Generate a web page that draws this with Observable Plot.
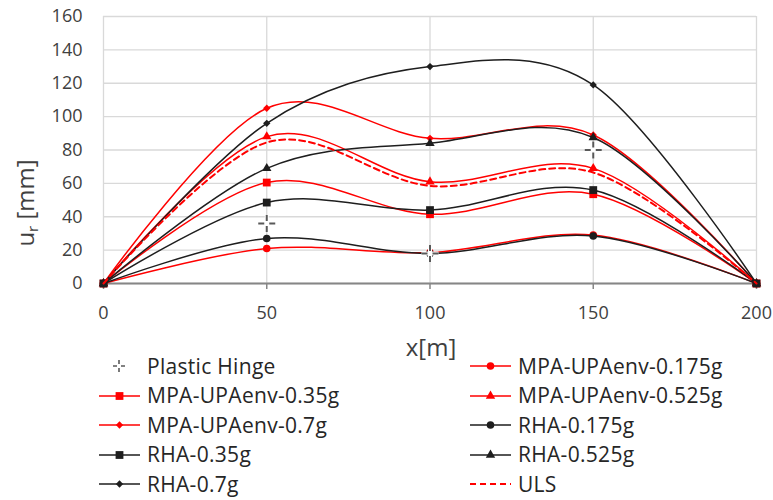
<!DOCTYPE html>
<html>
<head>
<meta charset="utf-8">
<script src="https://cdn.jsdelivr.net/npm/d3@7"></script>
<script src="https://cdn.jsdelivr.net/npm/@observablehq/plot@0.6"></script>
<style>
  body { margin: 0; background: #fff; font-family: "Open Sans", sans-serif; }
  #wrap { position: relative; width: 773px; height: 500px; overflow: hidden; }
  .lbl { position: absolute; color: #404040; font-size: 24px; white-space: nowrap; transform: translate(-50%, -50%); line-height: 1; }
  .lbl sub { font-size: 15px; vertical-align: -4px; }
  .leg { position: absolute; display: flex; align-items: center; color: #262626; font-size: 21px; letter-spacing: 0.3px; white-space: nowrap; line-height: 1; }
  .leg svg { display: block; margin-right: 6px; }
</style>
</head>
<body>
<div id="wrap"></div>
<script>
// ---------- data ----------
const xs = [0, 50, 100, 150, 200];
const mpa0175 = [0, 21, 18.5, 29, 0];
const mpa035  = [0, 60.5, 41.5, 53.5, 0];
const mpa0525 = [0, 88, 61, 69, 0];
const mpa07   = [0, 105, 87, 89, 0];
const rha0175 = [0, 27, 18, 28.5, 0];
const rha035  = [0, 48.5, 44, 56, 0];
const rha0525 = [0, 69, 84, 87.5, 0];
const rha07   = [0, 96, 130, 119, 0];
const uls     = [0, 84.5, 58.5, 66.5, 0];
const hingeX  = [50, 100, 150];
const hingeY  = [36, 18, 80];
const xTicks = [0, 50, 100, 150, 200];
const yTicks = [0, 20, 40, 60, 80, 100, 120, 140, 160];

const RED = "#ff0000", BLK = "#1e1e1e";
const series = [
  {name: "MPA-UPAenv-0.175g", v: mpa0175, color: RED, sym: "circle", r: 3.8},
  {name: "MPA-UPAenv-0.35g",  v: mpa035,  color: RED, sym: "square", r: 4.4},
  {name: "MPA-UPAenv-0.525g", v: mpa0525, color: RED, sym: "triangle", r: 3.5},
  {name: "MPA-UPAenv-0.7g",   v: mpa07,   color: RED, sym: "diamond2", r: 3.3},
  {name: "RHA-0.175g",        v: rha0175, color: BLK, sym: "circle", r: 3.8},
  {name: "RHA-0.35g",         v: rha035,  color: BLK, sym: "square", r: 4.4},
  {name: "RHA-0.525g",        v: rha0525, color: BLK, sym: "triangle", r: 3.5},
  {name: "RHA-0.7g",          v: rha07,   color: BLK, sym: "diamond2", r: 3.3},
  {name: "ULS",               v: uls,     color: RED, sym: null, dash: "6,4"}
];
const hinge = hingeX.map((x, i) => ({x, y: hingeY[i]}));

function hingeSymbol(gap) {
  return {
    draw(ctx, size) {
      const h = Math.sqrt(size / Math.PI);
      ctx.moveTo(-h, 0); ctx.lineTo(-gap, 0);
      ctx.moveTo(gap, 0); ctx.lineTo(h, 0);
      ctx.moveTo(0, -h); ctx.lineTo(0, -gap);
      ctx.moveTo(0, gap); ctx.lineTo(0, h);
    }
  };
}

const marks = [
  Plot.gridY(yTicks, {stroke: "#d9d9d9", strokeOpacity: 1, strokeWidth: 1.3}),
  Plot.gridX(xTicks, {stroke: "#d9d9d9", strokeOpacity: 1, strokeWidth: 1.3}),
  Plot.axisY(yTicks, {tickSize: 0, tickPadding: 21, label: null, fontSize: 18, color: "#404040"}),
  Plot.axisX(xTicks, {tickSize: 6, tickPadding: 17, label: null, fontSize: 18, stroke: "#868686", strokeWidth: 1.5, color: "#404040"}),
  Plot.ruleY([0], {stroke: "#868686", strokeWidth: 2})
];
for (const s of series) {
  const rows = xs.map((x, i) => ({x, y: s.v[i]}));
  marks.push(Plot.line(rows, {x: "x", y: "y", curve: "cardinal", stroke: s.color, strokeWidth: s.dash ? 2 : 1.5, strokeDasharray: s.dash}));
  if (s.sym) marks.push(Plot.dot(rows, {x: "x", y: "y", symbol: s.sym, r: s.r, fill: s.color, stroke: "none"}));
}
marks.push(Plot.dot(hinge, {x: "x", y: "y", symbol: hingeSymbol(0), r: 8.5, stroke: "#fff", strokeWidth: 4, fill: "none"}));
marks.push(Plot.dot(hinge, {x: "x", y: "y", symbol: hingeSymbol(2.5), r: 8.5, stroke: "#595959", strokeWidth: 2, fill: "none"}));

const chart = Plot.plot({
  width: 773, height: 360,
  marginLeft: 103, marginRight: 17, marginTop: 16, marginBottom: 77,
  style: {fontFamily: "Open Sans", fontSize: "18px", color: "#404040", background: "#fff"},
  x: {domain: [0, 200]},
  y: {domain: [0, 160]},
  marks
});
const wrap = document.getElementById("wrap");
wrap.appendChild(chart);

// axis titles
const yl = document.createElement("div");
yl.className = "lbl";
yl.style.left = "26px"; yl.style.top = "203px";
yl.style.transform = "translate(-50%, -50%) rotate(-90deg)";
yl.innerHTML = "u<sub>r</sub> [mm]";
wrap.appendChild(yl);
const xl = document.createElement("div");
xl.className = "lbl";
xl.style.left = "431px"; xl.style.top = "347px";
xl.textContent = "x[m]";
wrap.appendChild(xl);

// legend
const legendOrder = [
  {name: "Plastic Hinge", hinge: true},
  series[0], series[1], series[2], series[3], series[4], series[5], series[6], series[7], series[8]
];
const symMap = {circle: d3.symbolCircle, square: d3.symbolSquare, triangle: d3.symbolTriangle, diamond2: d3.symbolDiamond2};
legendOrder.forEach((item, i) => {
  const col = i % 2, row = Math.floor(i / 2);
  const div = document.createElement("div");
  div.className = "leg";
  div.style.left = (col === 0 ? 99 : 470) + "px";
  div.style.top = (366 + row * 29.5 - 11) + "px";
  div.style.height = "22px";
  const svg = d3.create("svg").attr("width", 42).attr("height", 22);
  if (item.hinge) {
    svg.append("path").attr("transform", "translate(20,11)")
      .attr("d", d3.symbol(hingeSymbol(2), Math.PI * 36)())
      .attr("stroke", "#595959").attr("stroke-width", 1.6).attr("fill", "none");
  } else {
    svg.append("line").attr("x1", 0).attr("x2", 41).attr("y1", 11).attr("y2", 11)
      .attr("stroke", item.color).attr("stroke-width", item.dash ? 2 : 1.5)
      .attr("stroke-dasharray", item.dash || null);
    if (item.sym) {
      svg.append("path").attr("transform", "translate(20.5,11)")
        .attr("d", d3.symbol(symMap[item.sym], Math.PI * item.r * item.r)())
        .attr("fill", item.color);
    }
  }
  div.appendChild(svg.node());
  const t = document.createElement("span");
  t.textContent = item.name;
  div.appendChild(t);
  wrap.appendChild(div);
});
</script>
</body>
</html>
